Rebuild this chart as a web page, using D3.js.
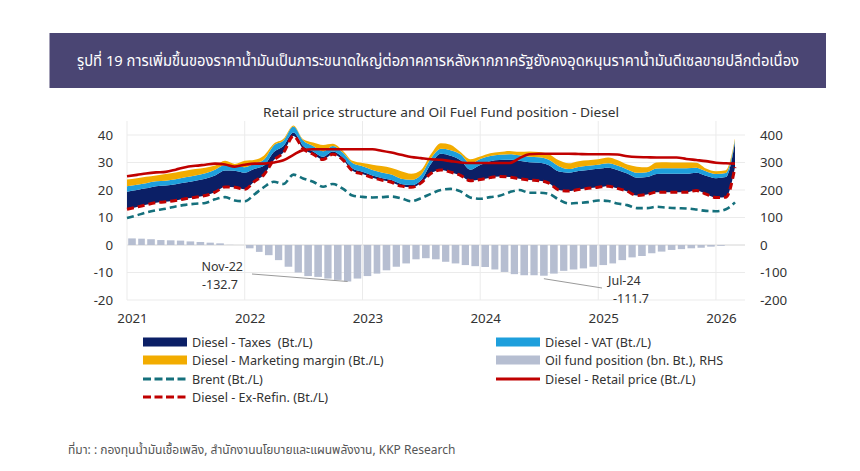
<!DOCTYPE html>
<html>
<head>
<meta charset="utf-8">
<script src="https://cdn.jsdelivr.net/npm/d3@7"></script>
<style>
  body { margin: 0; background: #fff; }
  svg { display: block; }
  text { font-family: "Noto Sans Thai", "Noto Sans", "Open Sans", sans-serif; }
</style>
</head>
<body>
<script>
// ข้อมูลรายเดือน ม.ค. 2021 - มี.ค. 2026 (Bt./L, กองทุน = bn. Bt.)
const exRefin = [
  13.0, 13.8, 14.6, 15.4, 15.7, 16.2, 16.8, 17.4, 18.0, 19.2, 21.1, 21.0,
  20.3, 23.2, 25.5, 30.8, 33.6, 39.6, 35.0, 33.0, 31.1, 33.0, 31.0, 27.0,
  25.8, 24.5, 23.6, 22.8, 21.4, 21.0, 22.5, 26.0, 27.3, 26.5, 25.3, 23.4,
  23.8, 24.5, 24.9, 24.7, 24.1, 23.6, 23.4, 22.5, 20.0, 19.6, 20.2, 20.6,
  21.0, 21.4, 20.6, 19.5, 18.0, 18.4, 19.2, 19.2, 19.2, 19.2, 19.8, 18.5,
  17.3, 17.4, 28.3
];
const taxes = [
  6.4, 6.2, 6.0, 6.0, 5.9, 5.9, 5.9, 6.0, 6.1, 6.1, 6.0, 6.0,
  6.0, 4.5, 3.3, 3.0, 2.4, 1.3, 1.0, 1.0, 1.0, 1.0, 0.8, 0.8,
  0.8, 0.8, 0.8, 0.8, 0.8, 0.8, 1.0, 3.5, 5.9, 6.0, 5.5, 4.0,
  5.3, 6.0, 6.0, 6.3, 6.5, 6.5, 6.5, 6.5, 6.7, 6.7, 6.7, 6.7,
  6.7, 6.7, 6.7, 6.5, 6.5, 6.3, 6.6, 6.7, 6.7, 6.7, 6.5, 6.7,
  7.0, 7.3, 9.0
];
const vat = [
  2.0, 1.9, 1.9, 1.8, 1.8, 1.8, 1.9, 1.9, 2.0, 2.1, 2.0, 1.8,
  2.0, 2.0, 2.2, 2.4, 2.0, 2.2, 2.0, 2.0, 2.0, 2.0, 1.8, 2.0,
  2.0, 2.0, 2.0, 2.0, 1.9, 1.9, 2.0, 2.0, 1.8, 2.0, 2.2, 2.3,
  2.2, 1.9, 1.9, 2.0, 2.0, 2.0, 2.0, 2.0, 1.9, 1.3, 1.5, 1.5,
  1.5, 1.6, 1.6, 1.5, 1.8, 1.8, 2.0, 2.0, 2.0, 2.0, 1.8, 1.6,
  1.5, 1.5, 0.8
];
const margin = [
  2.4, 2.4, 2.3, 2.1, 2.4, 2.5, 2.4, 2.3, 2.0, 1.5, 1.5, 0.7,
  2.3, 1.3, 1.5, 0.6, 0.6, 0.4, 0.5, 1.3, 2.3, 0.8, 0.7, 0.8,
  1.2, 1.9, 2.3, 2.4, 2.7, 2.2, 1.7, 1.5, 2.0, 2.0, 0.8, 1.5,
  0.9, 1.0, 1.0, 1.2, 1.3, 1.9, 1.9, 2.0, 2.2, 2.1, 2.1, 2.0,
  2.0, 2.1, 2.0, 1.8, 2.2, 1.8, 2.2, 2.2, 2.1, 2.1, 1.8, 1.0,
  1.0, 1.0, 0.6
];
const retail = [
  25.0, 25.5, 26.0, 26.4, 26.6, 27.4, 28.3, 28.8, 29.2, 29.6, 29.3, 28.5,
  29.2, 29.6, 29.6, 30.0, 30.8, 32.8, 34.5, 34.8, 34.8, 34.8, 34.8, 34.8,
  34.8, 34.8, 34.3, 33.6, 32.8, 32.0, 31.6, 31.2, 31.0, 30.5, 30.0, 29.8,
  29.8, 29.8, 29.8, 29.8, 31.5, 33.0, 33.2, 33.2, 33.2, 33.2, 33.1, 33.0,
  33.0, 33.0, 32.9, 32.3, 32.0, 31.9, 31.8, 31.8, 31.8, 31.3, 30.9, 30.5,
  29.9, 29.7, 29.6
];
const brent = [
  9.8, 10.8, 11.8, 12.6, 13.2, 14.0, 14.6, 15.0, 15.3, 16.6, 17.4, 16.2,
  15.9, 18.5, 21.0, 23.0, 22.2, 25.6, 24.2, 23.0, 21.2, 22.2, 20.5, 18.0,
  17.5, 17.3, 17.4, 17.6, 17.0, 15.9, 17.0, 18.6, 20.0, 20.4, 19.5, 17.3,
  16.8, 17.4, 17.9, 19.2, 20.0, 19.0, 19.0, 18.6, 16.5, 15.1, 15.3, 15.6,
  16.2, 16.0, 15.1, 14.5, 13.4, 13.4, 13.9, 13.6, 13.4, 13.3, 12.9, 12.4,
  12.3, 13.0, 15.5
];
const oilFund = [
  24, 23, 21, 18, 17, 16, 13, 11, 8.5, 6, 0.5, 0,
  -12, -25, -37, -55, -79, -100, -113, -116, -122, -127, -132.7, -122,
  -113, -104, -92, -79, -67, -52, -48, -52, -61, -67, -73, -77,
  -80, -89, -98, -106, -110, -110, -111.7, -104, -94, -89, -85, -79,
  -73, -67, -55, -45, -40, -30, -24, -18, -15, -12, -10, -6,
  -3, 0, 0
];
const leftTicks = [-20, -10, 0, 10, 20, 30, 40];
const rightTicks = [-200, -100, 0, 100, 200, 300, 400];
const yearTicks = [2021, 2022, 2023, 2024, 2025, 2026];

const months = d3.timeMonth.range(new Date(2021, 0, 1), new Date(2026, 3, 1));
const rows = months.map((d, i) => ({
  date: d, exRefin: exRefin[i], taxes: taxes[i], vat: vat[i], margin: margin[i],
  retail: retail[i], brent: brent[i], fund: oilFund[i]
}));

const col = {
  taxes: "#0b1f66", vat: "#1e9fdc", margin: "#f2ac00",
  fund: "#b6bed1", brent: "#15707c", red: "#c00000"
};

const W = 860, H = 471;
const svg = d3.select("body").append("svg").attr("width", W).attr("height", H);

// หัวเรื่อง
svg.append("rect").attr("x", 49.5).attr("y", 33).attr("width", 776.5).attr("height", 55).attr("fill", "#4a4573");
svg.append("text").attr("x", 438).attr("y", 66).attr("text-anchor", "middle")
  .attr("fill", "#fff").attr("font-size", 15)
  .attr("textLength", 722).attr("lengthAdjust", "spacingAndGlyphs")
  .text("รูปที่ 19 การเพิ่มขึ้นของราคาน้ำมันเป็นภาระขนาดใหญ่ต่อภาคการหลังหากภาครัฐยังคงอุดหนุนราคาน้ำมันดีเซลขายปลีกต่อเนื่อง");

svg.append("text").attr("x", 441).attr("y", 117).attr("text-anchor", "middle")
  .attr("fill", "#333").attr("font-size", 12)
  .attr("textLength", 356).attr("lengthAdjust", "spacingAndGlyphs")
  .text("Retail price structure and Oil Fuel Fund position - Diesel");

// สเกล
const x0 = 127, x1 = 745, yTop = 135, yBot = 300;
const x = d3.scaleTime().domain([new Date(2021, 0, 1), new Date(2026, 3, 1)]).range([x0, x1]);
const y = d3.scaleLinear().domain([-20, 40]).range([yBot, yTop]);
const y2 = d3.scaleLinear().domain([-200, 400]).range([yBot, yTop]);

// เส้นกริด
const grid = svg.append("g");
grid.selectAll(".hg").data(leftTicks).join("line")
  .attr("x1", x0).attr("x2", x1)
  .attr("y1", d => y(d)).attr("y2", d => y(d))
  .attr("stroke", d => d === 0 ? "#d4d4d4" : "#ebebeb").attr("stroke-width", 1);
grid.selectAll(".vg").data(yearTicks).join("line")
  .attr("x1", d => x(new Date(d, 0, 1))).attr("x2", d => x(new Date(d, 0, 1)))
  .attr("y1", 121).attr("y2", yBot)
  .attr("stroke", "#ebebeb").attr("stroke-width", 1);

// แท่งกองทุนน้ำมัน (แกนขวา)
svg.append("g").selectAll("rect").data(rows).join("rect")
  .attr("x", d => x(d.date) + 1.2)
  .attr("width", d => x(d3.timeMonth.offset(d.date, 1)) - x(d.date) - 2.4)
  .attr("y", d => y2(Math.max(0, d.fund)))
  .attr("height", d => Math.abs(y2(d.fund) - y2(0)))
  .attr("fill", col.fund);

// พื้นที่ซ้อน
const stack = d3.stack().keys(["exRefin", "taxes", "vat", "margin"])(rows);
const area = d3.area().curve(d3.curveMonotoneX)
  .x(d => x(d.data.date)).y0(d => y(d[0])).y1(d => y(d[1]));
svg.append("g").selectAll("path").data(stack.slice(1)).join("path")
  .attr("d", area).attr("fill", d => col[d.key]);

const line = key => d3.line().curve(d3.curveMonotoneX).x(d => x(d.date)).y(d => y(d[key]))(rows);

svg.append("path").attr("d", line("brent")).attr("fill", "none")
  .attr("stroke", col.brent).attr("stroke-width", 2.6).attr("stroke-dasharray", "7,4");
svg.append("path").attr("d", line("exRefin")).attr("fill", "none")
  .attr("stroke", col.red).attr("stroke-width", 3).attr("stroke-dasharray", "7,4");
svg.append("path").attr("d", line("retail")).attr("fill", "none")
  .attr("stroke", col.red).attr("stroke-width", 2.6);

// แกน
const axL = svg.append("g").attr("transform", `translate(${x0},0)`)
  .call(d3.axisLeft(y).tickValues(leftTicks).tickSize(0).tickPadding(14));
const axR = svg.append("g").attr("transform", `translate(${x1},0)`)
  .call(d3.axisRight(y2).tickValues(rightTicks).tickSize(0).tickPadding(15));
const axB = svg.append("g").attr("transform", `translate(5,${yBot})`)
  .call(d3.axisBottom(x).tickValues(yearTicks.map(d => new Date(d, 0, 1)))
    .tickFormat(d3.timeFormat("%Y")).tickSize(0).tickPadding(14));
[axL, axR, axB].forEach(a => {
  a.select(".domain").remove();
  a.selectAll("text").attr("font-size", 13.3).attr("fill", "#333")
    .attr("font-family", "\"Noto Sans\", sans-serif");
});

// คำอธิบายจุดต่ำสุด
const notes = [
  { i: 22, label: "Nov-22", val: "-132.7", tx: 243, ty: 271, lx: 252, ly: 274, anchor: "end", dx: -5 },
  { i: 42, label: "Jul-24", val: "-111.7", tx: 608, ty: 285, lx: 602, ly: 288, anchor: "start", dx: 5 }
];
notes.forEach(n => {
  const r = rows[n.i];
  const bx = (x(r.date) + x(d3.timeMonth.offset(r.date, 1))) / 2;
  svg.append("line").attr("x1", n.lx).attr("y1", n.ly)
    .attr("x2", bx).attr("y2", n.i === 22 ? y2(r.fund) : y2(r.fund) + 3)
    .attr("stroke", "#9a9a9a").attr("stroke-width", 1);
  svg.append("text").attr("x", n.tx).attr("y", n.ty).attr("text-anchor", n.anchor)
    .attr("font-size", 12.5).attr("fill", "#333").text(n.label);
  svg.append("text").attr("x", n.tx + n.dx).attr("y", n.ty + 18).attr("text-anchor", n.anchor)
    .attr("font-size", 12.5).attr("fill", "#333").text(n.val);
});

// คำอธิบายสัญลักษณ์
const legend = [
  { name: "Diesel - Taxes  (Bt./L)", type: "rect", c: col.taxes, cx: 143, cy: 342 },
  { name: "Diesel - VAT (Bt./L)", type: "rect", c: col.vat, cx: 496, cy: 342 },
  { name: "Diesel - Marketing margin (Bt./L)", type: "rect", c: col.margin, cx: 143, cy: 360 },
  { name: "Oil fund position (bn. Bt.), RHS", type: "rect", c: col.fund, cx: 496, cy: 360 },
  { name: "Brent (Bt./L)", type: "dash", c: col.brent, cx: 143, cy: 379 },
  { name: "Diesel - Retail price (Bt./L)", type: "line", c: col.red, cx: 496, cy: 379 },
  { name: "Diesel - Ex-Refin. (Bt./L)", type: "dash", c: col.red, cx: 143, cy: 397 }
];
const lg = svg.append("g");
legend.forEach(l => {
  if (l.type === "rect") {
    lg.append("rect").attr("x", l.cx).attr("y", l.cy - 4.5).attr("width", 44).attr("height", 9).attr("fill", l.c);
  } else {
    lg.append("line").attr("x1", l.cx).attr("x2", l.cx + 44).attr("y1", l.cy).attr("y2", l.cy)
      .attr("stroke", l.c).attr("stroke-width", 3)
      .attr("stroke-dasharray", l.type === "dash" ? "8,3.5" : null);
  }
  lg.append("text").attr("x", l.cx + 49).attr("y", l.cy + 4.5)
    .attr("font-size", 12.6).attr("fill", "#333").style("white-space", "pre").text(l.name);
});

// ที่มา
svg.append("text").attr("x", 68).attr("y", 454).attr("font-size", 12).attr("fill", "#555")
  .text("ที่มา: : กองทุนน้ำมันเชื้อเพลิง, สำนักงานนโยบายและแผนพลังงาน, KKP Research");
</script>
</body>
</html>
